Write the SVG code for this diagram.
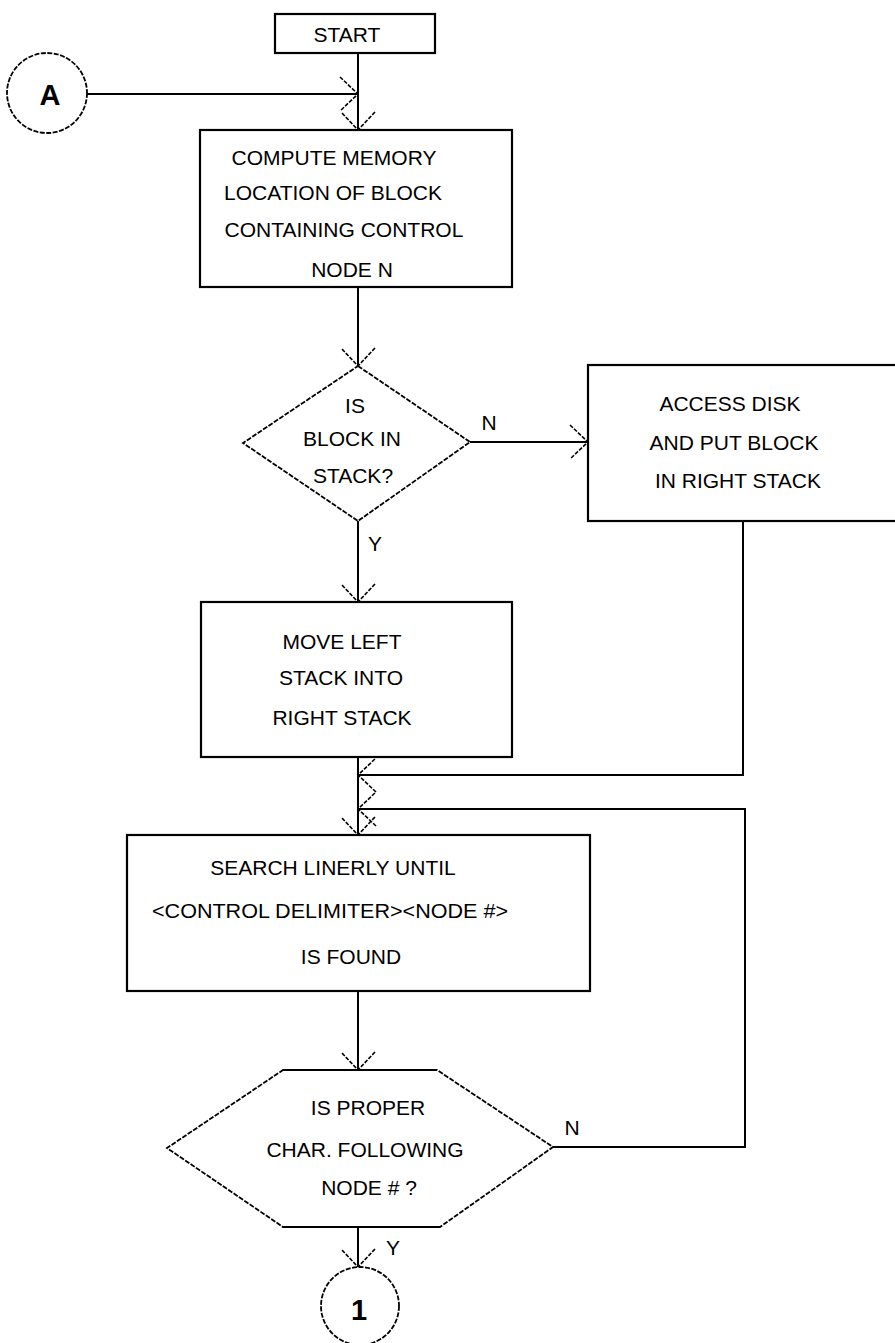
<svg xmlns="http://www.w3.org/2000/svg" width="895" height="1343" viewBox="0 0 895 1343">
<style>
  .box { fill: #fff; stroke: #000; stroke-width: 2.2; }
  .dash { fill: #fff; stroke: #000; stroke-width: 1.8; stroke-dasharray: 5 1.5; }
  .solid { fill: none; stroke: #000; stroke-width: 2.2; }
  .ln { fill: none; stroke: #000; stroke-width: 2; marker-end: url(#arr); }
  text { font-family: "Liberation Sans", Arial, sans-serif; font-size: 21px; fill: #000; text-anchor: middle; }
  .big { font-size: 29px; font-weight: bold; }
</style>
<defs>
  <marker id="arr" markerUnits="userSpaceOnUse" markerWidth="20" markerHeight="36" viewBox="0 0 20 36" refX="18" refY="18" orient="auto" overflow="visible">
    <path d="M0,1 L18,18 L0,35" fill="none" stroke="#000" stroke-width="1.6" stroke-dasharray="4 1.5"/>
  </marker>
</defs>
<rect width="895" height="1343" fill="#fff"/>
<g id="connectors">
  <path class="ln" d="M358,53 V130"/>
  <path class="ln" d="M87,94 H358"/>
  <path class="ln" d="M358,287 V366"/>
  <path class="ln" d="M470,442 H588"/>
  <path class="ln" d="M358,521 V602"/>
  <path class="ln" d="M743,521 V775 H358"/>
  <path class="ln" d="M358,757 V835"/>
  <path class="ln" d="M358,991 V1070"/>
  <path class="ln" d="M553,1147 H745 V809 H358"/>
  <path class="ln" d="M358,1227 V1267"/>
  <text x="489" y="430">N</text>
  <text x="375" y="551">Y</text>
  <text x="572" y="1135">N</text>
  <text x="393" y="1255">Y</text>
</g>
<g id="start">
  <rect class="box" x="275" y="14" width="160" height="39"/>
  <text x="347" y="42">START</text>
</g>
<g id="connA">
  <circle class="dash" cx="47" cy="93" r="40"/>
  <text class="big" x="50" y="105">A</text>
</g>
<g id="compute">
  <rect class="box" x="200" y="130" width="312" height="157"/>
  <text x="334" y="165">COMPUTE MEMORY</text>
  <text x="333" y="200">LOCATION OF BLOCK</text>
  <text x="344" y="237">CONTAINING CONTROL</text>
  <text x="352" y="277">NODE N</text>
</g>
<g id="inStack">
  <polygon class="dash" points="358,366 470,442 358,521 243,443"/>
  <text x="355" y="413">IS</text>
  <text x="352" y="446">BLOCK IN</text>
  <text x="353" y="483">STACK?</text>
</g>
<g id="access">
  <rect class="box" x="588" y="365" width="312" height="156"/>
  <text x="730" y="411">ACCESS DISK</text>
  <text x="734" y="450">AND PUT BLOCK</text>
  <text x="738" y="488">IN RIGHT STACK</text>
</g>
<g id="move">
  <rect class="box" x="201" y="602" width="311" height="155"/>
  <text x="342" y="649">MOVE LEFT</text>
  <text x="341" y="685">STACK INTO</text>
  <text x="342" y="725">RIGHT STACK</text>
</g>
<g id="search">
  <rect class="box" x="127" y="835" width="463" height="156"/>
  <text x="333" y="875">SEARCH LINERLY UNTIL</text>
  <text x="330" y="918" textLength="356" lengthAdjust="spacingAndGlyphs">&lt;CONTROL DELIMITER&gt;&lt;NODE  #&gt;</text>
  <text x="351" y="964">IS FOUND</text>
</g>
<g id="proper">
  <polygon class="dash" points="283,1070 437,1070 553,1147 440,1227 283,1227 167,1148"/>
  <path class="solid" d="M283,1070 H437 M283,1227 H440"/>
  <text x="368" y="1115">IS PROPER</text>
  <text x="365" y="1157">CHAR. FOLLOWING</text>
  <text x="369" y="1195">NODE # ?</text>
</g>
<g id="conn1">
  <circle class="dash" cx="360" cy="1306" r="39"/>
  <text class="big" x="359" y="1320">1</text>
</g>
</svg>
